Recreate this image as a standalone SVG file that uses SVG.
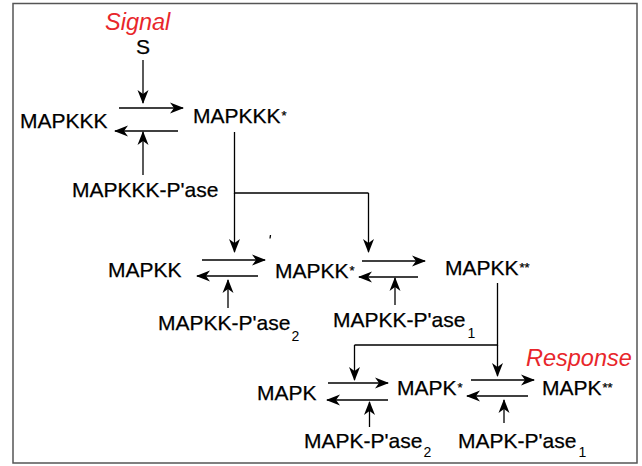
<svg xmlns="http://www.w3.org/2000/svg" width="642" height="466" viewBox="0 0 642 466">
<defs>
<marker id="ah" viewBox="0 -6 14 12" refX="13" refY="0" markerWidth="14" markerHeight="12" markerUnits="userSpaceOnUse" orient="auto">
<path d="M0,-5.5 L14,0 L0,5.5 L4,0 Z" fill="#000"/>
</marker>
<style>
.t{font-family:"Liberation Sans",Arial,sans-serif;font-size:21px;fill:#000;stroke:#000;stroke-width:0.25}
.r{font-family:"Liberation Sans",Arial,sans-serif;font-size:23.5px;font-style:italic;fill:#e8262b}
.s{font-size:13px}
.sub{font-size:14px;stroke-width:0}
.c line,.c polyline{stroke:#000;stroke-width:1.3;fill:none}
.a{marker-end:url(#ah)}
</style>
</defs>
<rect width="642" height="466" fill="#fff"/>
<rect x="13" y="3.5" width="624" height="459.5" fill="none" stroke="#555" stroke-width="1.5"/>

<g id="signal"><text class="r" x="105" y="30">Signal</text></g>
<g id="response"><text class="r" x="526" y="366">Response</text></g>
<g id="S"><text class="t" x="136" y="54">S</text></g>
<g id="MAPKKK"><text class="t" x="20" y="128">MAPKKK</text></g>
<g id="MAPKKKstar"><text class="t" x="193" y="123">MAPKKK<tspan class="s" dx="1" dy="-3">*</tspan></text></g>
<g id="MAPKKKPase"><text class="t" x="72" y="197">MAPKKK-P'ase</text></g>
<g id="MAPKK"><text class="t" x="108" y="277">MAPKK</text></g>
<g id="MAPKKstar"><text class="t" x="275" y="278">MAPKK<tspan class="s" dx="1" dy="-3">*</tspan></text></g>
<g id="MAPKKstarstar"><text class="t" x="445" y="275">MAPKK<tspan class="s" dx="1" dy="-3">**</tspan></text></g>
<g id="MAPKKPase2"><text class="t" x="158" y="330">MAPKK-P'ase<tspan class="sub" dx="1" dy="11">2</tspan></text></g>
<g id="MAPKKPase1"><text class="t" x="333" y="327">MAPKK-P'ase<tspan class="sub" dx="2" dy="11">1</tspan></text></g>
<g id="MAPK"><text class="t" x="257" y="400">MAPK</text></g>
<g id="MAPKstar"><text class="t" x="397" y="395">MAPK<tspan class="s" dx="1" dy="-3">*</tspan></text></g>
<g id="MAPKstarstar"><text class="t" x="542" y="395">MAPK<tspan class="s" dx="1" dy="-3">**</tspan></text></g>
<g id="MAPKPase2"><text class="t" x="304" y="448">MAPK-P'ase<tspan class="sub" dx="1" dy="9">2</tspan></text></g>
<g id="MAPKPase1"><text class="t" x="458" y="448">MAPK-P'ase<tspan class="sub" dx="2" dy="9">1</tspan></text></g>

<g id="connectors" class="c">
<line class="a" x1="143" y1="60" x2="143" y2="103"/>
<line class="a" x1="119" y1="108" x2="183" y2="108"/>
<line class="a" x1="178" y1="131" x2="115" y2="131"/>
<line class="a" x1="143" y1="175" x2="143" y2="132"/>
<polyline points="234.5,132 234.5,193 368.5,193"/>
<line class="a" x1="234.5" y1="193" x2="234.5" y2="252"/>
<line class="a" x1="368.5" y1="193" x2="368.5" y2="252"/>
<line x1="270.5" y1="235" x2="270" y2="238.5" stroke-width="1"/>
<line class="a" x1="202" y1="260" x2="265" y2="260"/>
<line class="a" x1="258" y1="276" x2="197" y2="276"/>
<line class="a" x1="228" y1="308" x2="228" y2="280"/>
<line class="a" x1="362" y1="261" x2="425" y2="261"/>
<line class="a" x1="418" y1="277" x2="359" y2="277"/>
<line class="a" x1="395" y1="305" x2="395" y2="278"/>
<polyline points="497.5,283 497.5,345 354.5,345"/>
<line class="a" x1="354.5" y1="345" x2="354.5" y2="380"/>
<line class="a" x1="497.5" y1="345" x2="497.5" y2="376"/>
<line class="a" x1="328" y1="383" x2="388" y2="383"/>
<line class="a" x1="388" y1="400" x2="327" y2="400"/>
<line class="a" x1="369.5" y1="427" x2="369.5" y2="402"/>
<line class="a" x1="471" y1="380" x2="534" y2="380"/>
<line class="a" x1="528" y1="396" x2="467" y2="396"/>
<line class="a" x1="504" y1="423" x2="504" y2="400"/>
</g>
</svg>
